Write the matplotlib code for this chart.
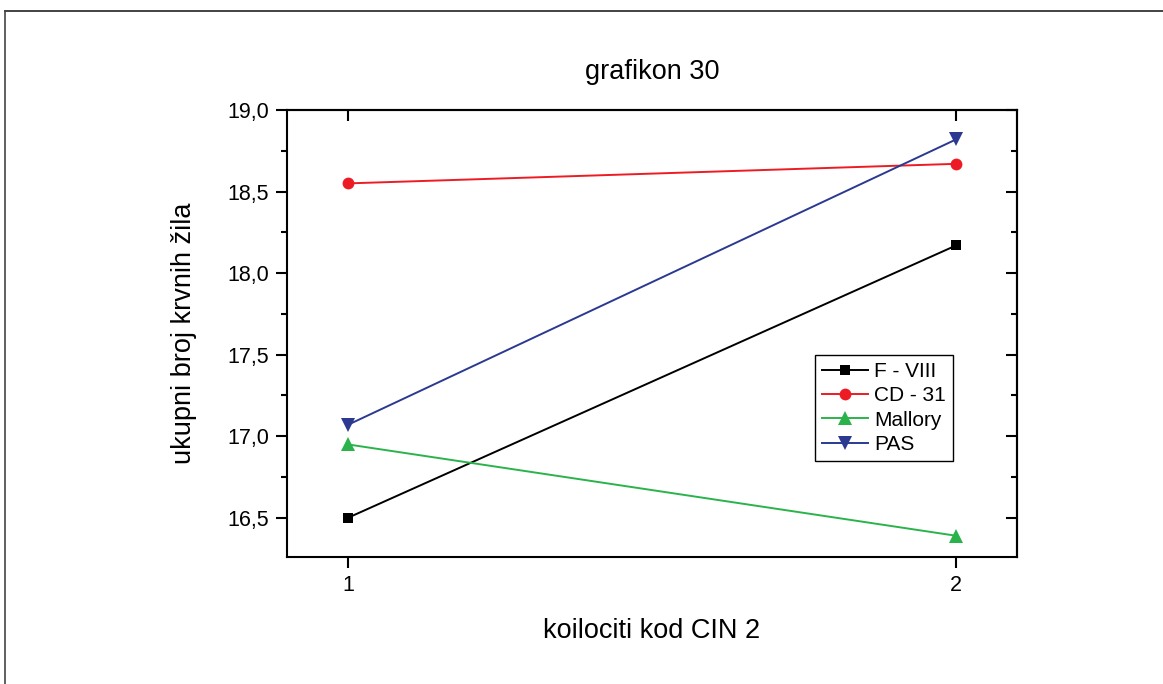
import matplotlib.pyplot as plt
from matplotlib.lines import Line2D
from matplotlib.ticker import MultipleLocator, FuncFormatter

plt.rcParams['font.family'] = ['Liberation Sans', 'DejaVu Sans']

x = [1, 2]
f_viii = [16.50, 18.17]
cd_31 = [18.55, 18.67]
mallory = [16.95, 16.39]
pas = [17.07, 18.82]

series = [
    ('F - VIII', f_viii, 'black', 's', 7.5),
    ('CD - 31', cd_31, '#ED1C24', 'o', 8.5),
    ('Mallory', mallory, '#2BB34B', '^', 9.5),
    ('PAS', pas, '#2B3990', 'v', 9.5),
]

fig = plt.figure(figsize=(11.63, 6.84), dpi=100)
ax = fig.add_axes([0.2468, 0.1857, 0.6277, 0.6535])

for name, vals, col, mk, ms in series:
    ax.plot(x, vals, color=col, lw=1.4, marker=mk, markersize=ms,
            markeredgewidth=0, label=name)

ax.set_xlim(0.9, 2.1)
ax.set_ylim(16.26, 19.0)
ax.set_xticks([1, 2])
ax.yaxis.set_major_locator(MultipleLocator(0.5))
ax.yaxis.set_minor_locator(MultipleLocator(0.25))
ax.yaxis.set_major_formatter(FuncFormatter(lambda v, p: f'{v:.1f}'.replace('.', ',')))

for s in ax.spines.values():
    s.set_linewidth(1.5)
ax.tick_params(which='major', length=8, width=1.5, labelsize=15.5, pad=5)
ax.tick_params(which='minor', length=4, width=1.5)
ax.tick_params(axis='both', which='both', direction='out')

# inward ticks on top and right
top = ax.secondary_xaxis('top')
top.set_xticks([1, 2])
top.tick_params(direction='in', length=8, width=1.5)
top.set_xticklabels([])
right = ax.secondary_yaxis('right')
right.yaxis.set_major_locator(MultipleLocator(0.5))
right.yaxis.set_minor_locator(MultipleLocator(0.25))
right.tick_params(which='major', direction='in', length=8, width=1.5)
right.tick_params(which='minor', direction='in', length=4, width=1.5)
right.set_yticklabels([])
for sec in (top, right):
    for s in sec.spines.values():
        s.set_linewidth(1.5)

ax.set_title('grafikon 30', fontsize=19.5, pad=22)
ax.set_xlabel('koilociti kod CIN 2', fontsize=19.5, labelpad=16)
ax.set_ylabel('ukupni broj krvnih žila', fontsize=19.5, labelpad=22)

leg = ax.legend(loc='upper left', bbox_to_anchor=(0.723, 0.452), fontsize=15,
                frameon=True, fancybox=False, framealpha=1, edgecolor='black',
                borderpad=0.35, labelspacing=0.25, handlelength=2.2,
                handletextpad=0.3, borderaxespad=0)
leg.get_frame().set_linewidth(1.0)

# outer frame lines (top and left)
fig.add_artist(Line2D([5 / 1163, 1], [1 - 11 / 684, 1 - 11 / 684], color='#222222', lw=1.2))
fig.add_artist(Line2D([5 / 1163, 5 / 1163], [0, 1 - 11 / 684], color='#444444', lw=1.2))

fig.savefig('out.png', dpi=100)
